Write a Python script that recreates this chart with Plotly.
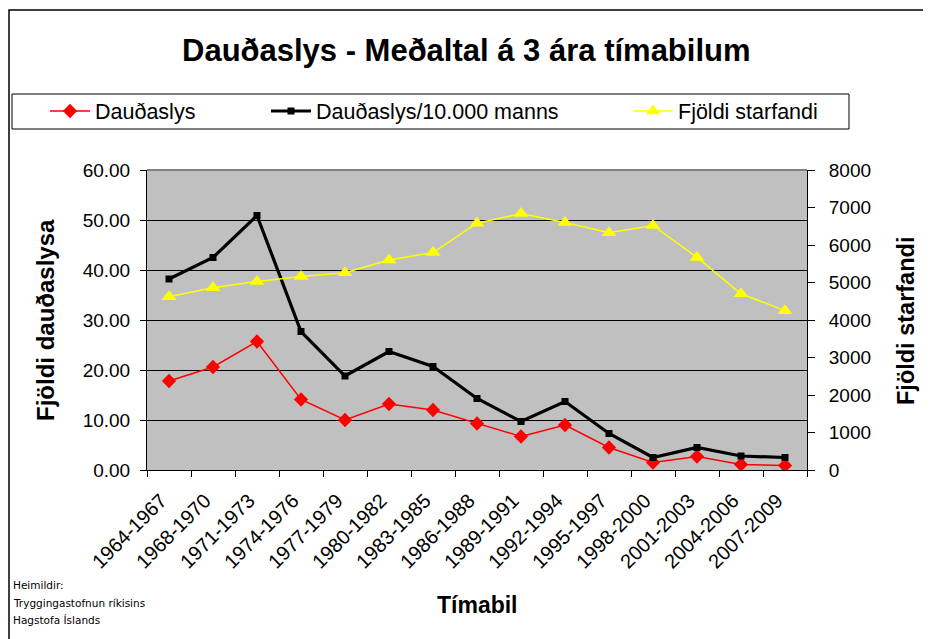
import plotly.graph_objects as go

categories = ["1964-1967", "1968-1970", "1971-1973", "1974-1976", "1977-1979",
              "1980-1982", "1983-1985", "1986-1988", "1989-1991", "1992-1994",
              "1995-1997", "1998-2000", "2001-2003", "2004-2006", "2007-2009"]
dauDaslys = [17.8, 20.6, 25.7, 14.1, 10.0, 13.2, 12.0, 9.3, 6.7, 9.0, 4.5, 1.5, 2.7, 1.1, 0.9]
per10000 = [38.2, 42.5, 50.9, 27.7, 18.8, 23.7, 20.7, 14.3, 9.7, 13.7, 7.3, 2.5, 4.5, 2.8, 2.5]
starfandi = [4620, 4860, 5030, 5160, 5260, 5600, 5800, 6580, 6840, 6600, 6330, 6520, 5670, 4700, 4250]
y_ticks = [0, 10, 20, 30, 40, 50, 60]
y2_ticks = [0, 1000, 2000, 3000, 4000, 5000, 6000, 7000, 8000]

OFF = 8  # page body margin
W, H = 931 - OFF, 639 - OFF
# plot area in page coordinates
PL, PR, PT, PB = 147, 807, 170, 470
L, R, T, B = PL - OFF, PR - OFF, PT - OFF, PB - OFF
FONT = "Liberation Sans, Arial, sans-serif"

def px(x):
    return (x - OFF - L) / (R - L)

def py(y):
    return (B - (y - OFF)) / (B - T)

fig = go.Figure()
fig.add_trace(go.Scatter(x=categories, y=dauDaslys, name="Dauðaslys", mode="lines+markers",
                         line=dict(color="#FF0000", width=1.5),
                         marker=dict(symbol="diamond", size=11, color="#FF0000"),
                         legend="legend"))
fig.add_trace(go.Scatter(x=categories, y=per10000, name="Dauðaslys/10.000 manns", mode="lines+markers",
                         line=dict(color="#000000", width=3.2),
                         marker=dict(symbol="square", size=7, color="#000000"),
                         legend="legend2"))
fig.add_trace(go.Scatter(x=categories, y=starfandi, name="Fjöldi starfandi", mode="lines+markers",
                         line=dict(color="#FFFF00", width=1.5),
                         marker=dict(symbol="triangle-up", size=13, color="#FFFF00"),
                         yaxis="y2", legend="legend3"))

leg_common = dict(orientation="h", xanchor="left", yanchor="middle", y=py(111),
                  bgcolor="rgba(0,0,0,0)", borderwidth=0, itemwidth=40,
                  font=dict(family=FONT, size=21.5, color="#000000"))

fig.update_layout(
    width=W, height=H,
    margin=dict(l=L, r=W - R, t=T, b=H - B),
    paper_bgcolor="#FFFFFF",
    plot_bgcolor="#C0C0C0",
    font=dict(family=FONT, color="#000000"),
    showlegend=True,
    legend=dict(leg_common, x=px(45)),
    legend2=dict(leg_common, x=px(266)),
    legend3=dict(leg_common, x=px(628)),
    xaxis=dict(type="category", range=[-0.5, len(categories) - 0.5],
               showline=True, linecolor="#000000", linewidth=1,
               ticks="outside", tickson="boundaries", ticklen=6, tickcolor="#000000",
               tickangle=-45, tickfont=dict(family=FONT, size=20), showgrid=False,
               mirror=False, zeroline=False, ticklabelstandoff=10, ticklabelshift=-8),
    yaxis=dict(range=[0, 60], tickvals=y_ticks, tickformat=".2f", showline=True,
               linecolor="#000000", linewidth=1, ticks="outside", ticklen=6,
               tickcolor="#000000", tickfont=dict(family=FONT, size=19),
               showgrid=True, gridcolor="#000000", gridwidth=1, zeroline=False,
               ticklabelstandoff=6),
    yaxis2=dict(range=[0, 8000], tickvals=y2_ticks, overlaying="y", side="right",
                showline=True, linecolor="#000000", linewidth=1, ticks="outside",
                ticklen=7, tickcolor="#000000", tickfont=dict(family=FONT, size=19),
                showgrid=False, zeroline=False, ticklabelstandoff=10),
)

shapes = [
    # outer frame
    dict(type="rect", xref="paper", yref="paper", x0=px(9), x1=px(960), y0=py(700), y1=py(10),
         line=dict(color="#000000", width=1.5), layer="below"),
    # legend box
    dict(type="rect", xref="paper", yref="paper", x0=px(12), x1=px(849), y0=py(129), y1=py(94),
         line=dict(color="#000000", width=1), fillcolor="rgba(0,0,0,0)"),
    # top border of plot area
    dict(type="line", xref="paper", yref="paper", x0=0, x1=1, y0=1, y1=1,
         line=dict(color="#808080", width=2)),
]
fig.update_layout(shapes=shapes)

annotations = [
    dict(text="<b>Dauðaslys - Meðaltal á 3 ára tímabilum</b>", x=px(466), y=py(50),
         font=dict(family=FONT, size=31)),
    dict(text="<b>Fjöldi dauðaslysa</b>", x=px(45), y=py(320), textangle=-90,
         font=dict(family=FONT, size=24)),
    dict(text="<b>Fjöldi starfandi</b>", x=px(906), y=py(321), textangle=-90,
         font=dict(family=FONT, size=23.5)),
    dict(text="<b>Tímabil</b>", x=px(477), y=py(605),
         font=dict(family=FONT, size=23)),
]
source_lines = ["Heimildir:", "Tryggingastofnun ríkisins", "Hagstofa Íslands"]
source_y = [585, 603, 620]
for t, yy in zip(source_lines, source_y):
    annotations.append(dict(text=t, x=px(11), y=py(yy), xanchor="left",
                            font=dict(family="DejaVu Sans, sans-serif", size=10.5)))
for a in annotations:
    a.setdefault("xref", "paper")
    a.setdefault("yref", "paper")
    a.setdefault("showarrow", False)
    a.setdefault("xanchor", "center")
    a.setdefault("yanchor", "middle")
fig.update_layout(annotations=annotations)

fig.write_html("out.html")
